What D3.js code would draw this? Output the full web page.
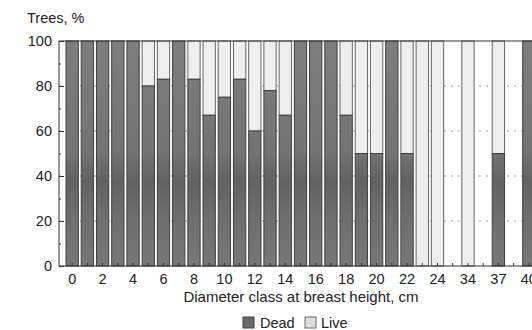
<!DOCTYPE html>
<html>
<head>
<meta charset="utf-8">
<script src="https://cdn.jsdelivr.net/npm/d3@7"></script>
<style>
  body { margin: 0; background: #fff; }
  svg { display: block; font-family: "Liberation Sans", Arial, sans-serif; }
</style>
</head>
<body>
<div id="chart"></div>
<script>
// diameter classes (cm); the three gap slots hold no trees
const diameterClasses = ["0","1","2","3","4","5","6","7","8","9","10","11","12","13","14","15",
  "16","17","18","19","20","21","22","23","24","25-33","34","35-36","37","38-39","40"];
const tickLabels = ["0","2","4","6","8","10","12","14","16","18","20","22","24","34","37","40"];
const deadPct = [100,100,100,100,100,80,83,100,83,67,75,83,60,78,67,100,
  100,100,67,50,50,100,50,0,0,null,0,null,50,null,100];
const yTicks = [0,20,40,60,80,100];
const seriesNames = ["Dead","Live"];

const width = 532, height = 330;
const margin = {top: 41, left: 59, bottom: 266};

const svg = d3.select("#chart").append("svg")
  .attr("width", width).attr("height", height);

const defs = svg.append("defs");
const grad = defs.append("linearGradient").attr("id", "deadFill")
  .attr("gradientUnits", "userSpaceOnUse")
  .attr("x1", 0).attr("y1", margin.top).attr("x2", 0).attr("y2", margin.bottom);
grad.append("stop").attr("offset", "0%").attr("stop-color", "#7e7e7e");
grad.append("stop").attr("offset", "50%").attr("stop-color", "#737373");
grad.append("stop").attr("offset", "62%").attr("stop-color", "#626262");
grad.append("stop").attr("offset", "78%").attr("stop-color", "#6e6e6e");
grad.append("stop").attr("offset", "100%").attr("stop-color", "#777");

const x = d3.scaleBand()
  .domain(diameterClasses)
  .range([margin.left, 542])
  .paddingInner(0.19)
  .paddingOuter(0.46);

const y = d3.scaleLinear().domain([0, 100]).range([margin.bottom, margin.top]);

// dotted grid
svg.append("g")
  .selectAll("line")
  .data([20,40,60,80])
  .enter().append("line")
    .attr("x1", margin.left).attr("x2", width)
    .attr("y1", d => y(d)).attr("y2", d => y(d))
    .attr("stroke", "#999")
    .attr("stroke-dasharray", "2,5");

const rows = diameterClasses.map((c, i) => ({cls: c, dead: deadPct[i]}))
  .filter(d => d.dead !== null);

// live part (full bar behind)
svg.append("g")
  .selectAll("rect")
  .data(rows)
  .enter().append("rect")
    .attr("x", d => x(d.cls))
    .attr("width", x.bandwidth())
    .attr("y", y(100))
    .attr("height", d => y(d.dead) - y(100))
    .attr("fill", "#eeeeee")
    .attr("stroke", "#666")
    .attr("stroke-width", 1);

// dead part
svg.append("g")
  .selectAll("rect")
  .data(rows.filter(d => d.dead > 0))
  .enter().append("rect")
    .attr("x", d => x(d.cls))
    .attr("width", x.bandwidth())
    .attr("y", d => y(d.dead))
    .attr("height", d => y(0) - y(d.dead))
    .attr("fill", "url(#deadFill)")
    .attr("stroke", "#3e3e3e")
    .attr("stroke-width", 1);

// frame
svg.append("rect")
  .attr("x", margin.left).attr("y", margin.top)
  .attr("width", 542 - margin.left).attr("height", margin.bottom - margin.top)
  .attr("fill", "none").attr("stroke", "#333");

// y axis ticks inward
const yAxis = svg.append("g")
  .attr("transform", "translate(" + margin.left + ",0)")
  .call(d3.axisRight(y).tickValues(yTicks).tickSize(5).tickFormat(""));
yAxis.select(".domain").remove();
yAxis.selectAll("line").attr("stroke", "#333");
svg.append("g")
  .attr("transform", "translate(" + margin.left + ",0)")
  .call(d3.axisRight(y).tickValues([10,30,50,70,90]).tickSize(2).tickFormat(""))
  .call(g => g.select(".domain").remove())
  .selectAll("line").attr("stroke", "#333");

svg.append("g")
  .selectAll("text")
  .data(yTicks)
  .enter().append("text")
    .attr("x", 52).attr("y", d => y(d))
    .attr("dy", "0.35em")
    .attr("text-anchor", "end")
    .attr("font-size", 14.5)
    .attr("fill", "#222")
    .text(d => d);

// x axis ticks inward
const xAxis = svg.append("g")
  .attr("transform", "translate(0," + margin.bottom + ")")
  .call(d3.axisTop(x).tickSize(3).tickFormat(""));
xAxis.select(".domain").remove();
xAxis.selectAll("line").attr("stroke", "#333");

svg.append("g")
  .selectAll("text")
  .data(tickLabels)
  .enter().append("text")
    .attr("x", d => x(d) + x.bandwidth() / 2)
    .attr("y", 284)
    .attr("text-anchor", "middle")
    .attr("font-size", 14.5)
    .attr("fill", "#222")
    .text(d => d);

svg.append("text")
  .attr("x", 301).attr("y", 302)
  .attr("text-anchor", "middle")
  .attr("font-size", 15)
  .attr("fill", "#222")
  .text("Diameter class at breast height, cm");

svg.append("text")
  .attr("x", 27).attr("y", 23)
  .attr("font-size", 14.5)
  .attr("fill", "#222")
  .text("Trees, %");

// legend
const legend = svg.append("g");
const legendItems = [
  {name: seriesNames[0], fill: "#6a6a6a", stroke: "#3e3e3e", sx: 243, tx: 260},
  {name: seriesNames[1], fill: "#dcdcdc", stroke: "#666", sx: 305, tx: 321}
];
legend.selectAll("rect")
  .data(legendItems)
  .enter().append("rect")
    .attr("x", d => d.sx).attr("y", 317)
    .attr("width", 11).attr("height", 11)
    .attr("fill", d => d.fill).attr("stroke", d => d.stroke);
legend.selectAll("text")
  .data(legendItems)
  .enter().append("text")
    .attr("x", d => d.tx).attr("y", 328)
    .attr("font-size", 14.5)
    .attr("fill", "#222")
    .text(d => d.name);
</script>
</body>
</html>
